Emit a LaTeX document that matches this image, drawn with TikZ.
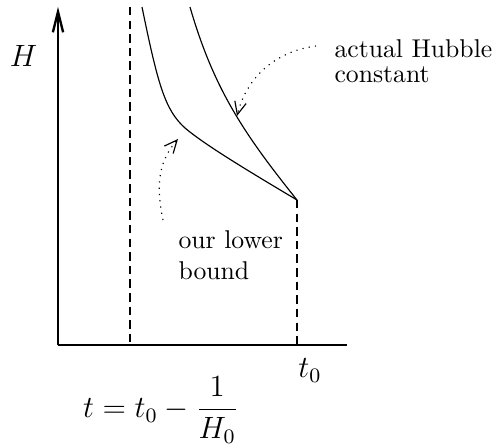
\documentclass[tikz,border=0pt]{standalone}
\usetikzlibrary{arrows.meta}
\begin{document}
\begin{tikzpicture}[x=0.389pt,y=-0.389pt,
  guide/.style={line width=0.45pt,dash pattern=on 3.3pt off 2pt},
  curve/.style={line width=0.45pt},
  pointer/.style={line width=0.45pt,dotted,-{Straight Barb[length=5pt,width=4.5pt]}},
  lbl/.style={align=left,anchor=base west,inner sep=0pt,font=\fontsize{10}{10}\selectfont},
  mathlbl/.style={inner sep=0pt,font=\fontsize{12}{14}\selectfont}]
\useasboundingbox (0,0) rectangle (496,445);
\coordinate (O) at (58,345);
\coordinate (ytop) at (58,7);
\coordinate (xend) at (347,345);
\coordinate (d1top) at (130,7);
\coordinate (d1bot) at (130,345);
\coordinate (meet) at (297,200);
\coordinate (d2bot) at (297,345);
\draw[line width=0.9pt,-{Straight Barb[length=8pt,width=4pt]}] (O) -- (ytop);
\draw[line width=1.15pt] (O) -- (xend);
\draw[guide] (d1top) -- (d1bot);
\draw[guide] (meet) -- (d2bot);
\draw[curve] (142,7) .. controls (158,85) and (165,110) .. (185,128)
  .. controls (205,145) and (250,172) .. (meet);
\draw[curve] (190,7) .. controls (214,90) and (245,135) .. (meet);
\node[mathlbl,anchor=base] (H) at (23.5,67) {$H$};
\node[lbl] (act) at (334,83) {actual Hubble\\constant};
\node[lbl] (low) at (178,280) {our lower\\[2.4pt]bound};
\node[mathlbl,anchor=base] (t0) at (310,378) {$t_0$};
\node[mathlbl] (eq) at (161,410) {$\displaystyle t=t_0-\frac{1}{H_0}$};
\coordinate (a1s) at (316,46);
\coordinate (a1e) at (237,116);
\coordinate (a2s) at (163,220);
\coordinate (a2e) at (178,139);
\draw[pointer] (a1s) .. controls (272,52) and (246,80) .. (a1e);
\draw[pointer] (a2s) .. controls (155,182) and (160,160) .. (a2e);
\end{tikzpicture}
\end{document}
